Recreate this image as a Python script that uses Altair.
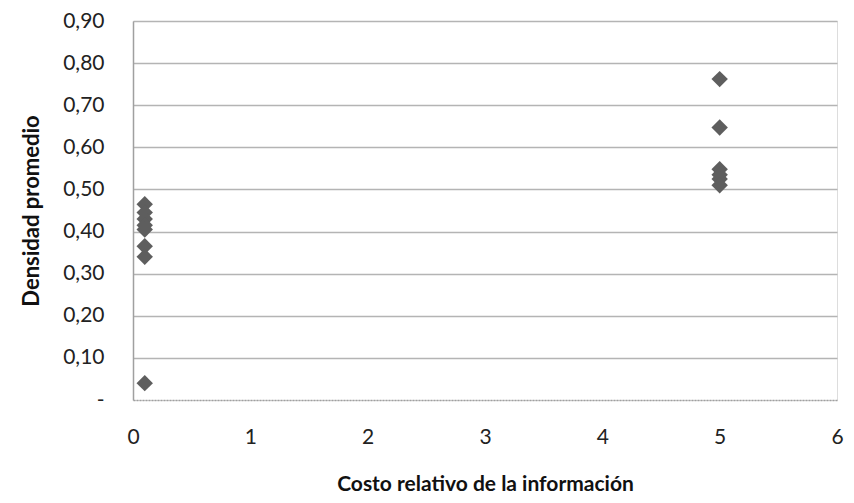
import altair as alt
import pandas as pd

# Data
costo = [0.1, 0.1, 0.1, 0.1, 0.1, 0.1, 0.1, 0.1,
         5, 5, 5, 5, 5, 5]
densidad = [0.465, 0.445, 0.430, 0.415, 0.405, 0.365, 0.340, 0.040,
            0.762, 0.647, 0.548, 0.535, 0.525, 0.510]
x_ticks = [0, 1, 2, 3, 4, 5, 6]
y_ticks = [0, 0.1, 0.2, 0.3, 0.4, 0.5, 0.6, 0.7, 0.8, 0.9]

df = pd.DataFrame({"costo": costo, "densidad": densidad})

FONT = "Lato"

chart = alt.Chart(df).mark_point(
    shape="diamond", filled=True, size=270, color="#5e5e5e", opacity=1
).encode(
    x=alt.X("costo:Q",
            scale=alt.Scale(domain=[0, 6], nice=False, zero=True),
            axis=alt.Axis(values=x_ticks, title="Costo relativo de la información",
                          grid=False, ticks=False, domain=True,
                          domainColor="#a0a0a0", domainDash=[2, 1], domainWidth=1.5,
                          labelFont=FONT, labelFontSize=21, labelColor="#222222",
                          labelPadding=26, labelFlush=False,
                          titleFont=FONT, titleFontSize=21, titleFontWeight="bold",
                          titleColor="#111111", titlePadding=26)),
    y=alt.Y("densidad:Q",
            scale=alt.Scale(domain=[0, 0.9], nice=False),
            axis=alt.Axis(values=y_ticks, title="Densidad promedio",
                          grid=True, gridColor="#b4b4b4", gridWidth=1.5,
                          gridOpacity={"condition": {"test": "datum.value == 0", "value": 0}, "value": 1},
                          ticks=False, domain=True, domainColor="#a0a0a0", domainWidth=1.5,
                          labelExpr="datum.value == 0 ? '-\u00a0\u00a0\u00a0\u00a0\u00a0' : replace(format(datum.value, '.2f'), '.', ',')",
                          labelFont=FONT, labelFontSize=21, labelColor="#222222",
                          labelPadding=29,
                          titleFont=FONT, titleFontSize=22, titleFontWeight="bold",
                          titleColor="#111111", titlePadding=19)),
).properties(
    width=704, height=379,
    autosize=alt.AutoSizeParams(type="none"),
    padding={"left": 125, "top": 13, "right": 8, "bottom": 95},
).configure_view(stroke=None).configure(background="white")

chart.save("out.html", embed_options={"renderer": "svg", "actions": False})
